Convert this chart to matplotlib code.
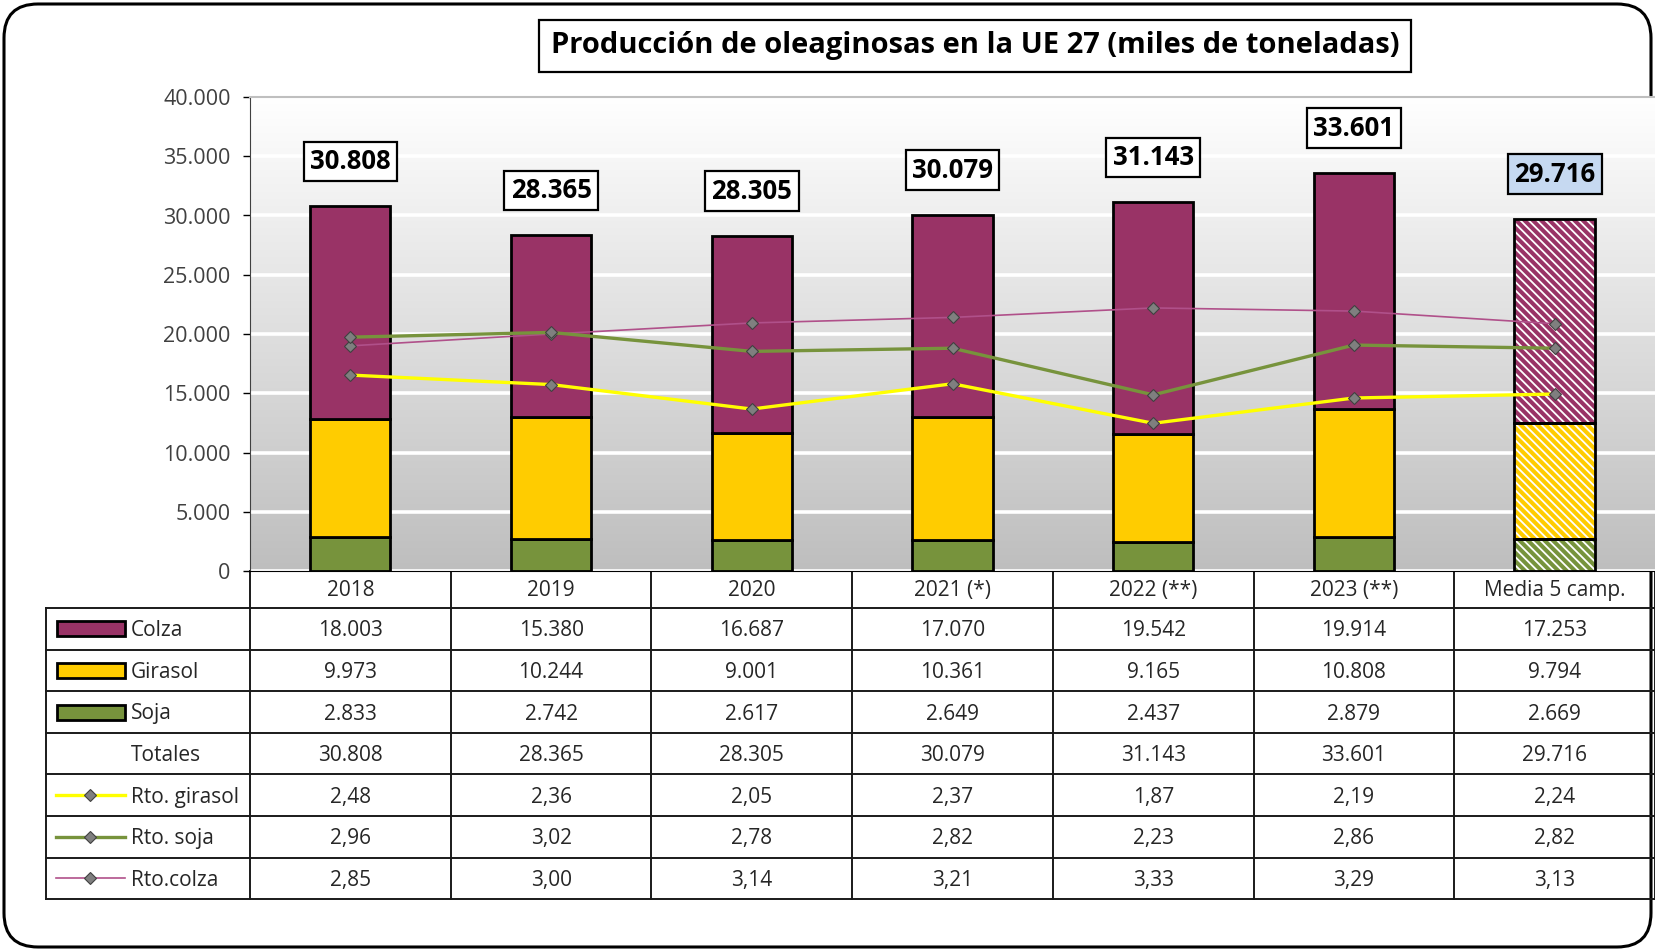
import numpy as np
import matplotlib
matplotlib.use('Agg')
import matplotlib.pyplot as plt
from matplotlib.patches import FancyBboxPatch, Rectangle
from matplotlib.lines import Line2D
from matplotlib.ticker import FuncFormatter

plt.rcParams['font.family'] = ['Open Sans', 'DejaVu Sans']
plt.rcParams['hatch.linewidth'] = 1.3

# datos (miles de toneladas / t/ha)
campanas = ['2018', '2019', '2020', '2021 (*)', '2022 (**)', '2023 (**)', 'Media 5 camp.']
colza = [18003, 15380, 16687, 17070, 19542, 19914, 17253]
girasol = [9973, 10244, 9001, 10361, 9165, 10808, 9794]
soja = [2833, 2742, 2617, 2649, 2437, 2879, 2669]
totales = [30808, 28365, 28305, 30079, 31143, 33601, 29716]
rto_girasol = [2.48, 2.36, 2.05, 2.37, 1.87, 2.19, 2.24]
rto_soja = [2.96, 3.02, 2.78, 2.82, 2.23, 2.86, 2.82]
rto_colza = [2.85, 3.00, 3.14, 3.21, 3.33, 3.29, 3.13]

C_COLZA = '#993366'
C_GIRASOL = '#ffcc00'
C_SOJA = '#77933c'
C_RGIR = '#ffff00'
C_RSOJA = '#77933c'
C_RCOLZA = '#b0508a'
TXT = '#262626'


def miles(v):
    return '{:,.0f}'.format(v).replace(',', '.')


def dec(v):
    return '{:.2f}'.format(v).replace('.', ',')


W, H = 1655, 951
fig = plt.figure(figsize=(W / 100, H / 100), dpi=100)

# capa de fondo: marco redondeado + tabla (coordenadas en pixeles)
tab = fig.add_axes([0, 0, 1, 1], zorder=0)
tab.set_xlim(0, W)
tab.set_ylim(H, 0)
tab.axis('off')
tab.add_patch(FancyBboxPatch((4, 4), W - 8, H - 8, boxstyle='round,pad=0,rounding_size=34',
                             fc='white', ec='black', lw=2.2))

x_left, x_ax = 46, 250
y_top, y_bot = 97, 571
col_w = (W - x_ax) / len(campanas)
row_top = 608
row_h = 41.6
n_rows = 7

# graf. principal
ax = fig.add_axes([x_ax / W, 1 - y_bot / H, (W - x_ax) / W, (y_bot - y_top) / H], zorder=2)
x = np.arange(len(campanas))
ax.set_xlim(-0.5, len(campanas) - 0.5)
ax.set_ylim(0, 40000)

grad = np.linspace(0.745, 1.0, 256).reshape(-1, 1)
ax.imshow(np.dstack([grad, grad, grad]), extent=[-0.5, len(campanas) - 0.5, 0, 40000],
          origin='lower', aspect='auto', zorder=0, interpolation='bilinear')
ax.set_axisbelow(True)
ax.yaxis.grid(True, color='white', lw=2.6)
ax.set_yticks(np.arange(0, 40001, 5000))
ax.yaxis.set_major_formatter(FuncFormatter(lambda v, p: miles(v)))
ax.tick_params(axis='y', direction='out', length=5, width=1, labelsize=15.5, labelcolor='#404040', pad=9)
ax.set_xticks([])
ax.spines['right'].set_visible(False)
ax.spines['top'].set_color('#bfbfbf')
ax.spines['top'].set_linewidth(1.5)
ax.spines['left'].set_color('#404040')
ax.spines['bottom'].set_color('black')

bw = 0.4
n = len(campanas) - 1
bot2 = np.array(soja)
bot3 = bot2 + np.array(girasol)
ax.bar(x[:n], soja[:n], bw, color=C_SOJA, edgecolor='black', lw=2, zorder=2)
ax.bar(x[:n], girasol[:n], bw, bottom=bot2[:n], color=C_GIRASOL, edgecolor='black', lw=2, zorder=2)
ax.bar(x[:n], colza[:n], bw, bottom=bot3[:n], color=C_COLZA, edgecolor='black', lw=2, zorder=2)

# media: rayado blanco
for vals, bots, c in [(soja, np.zeros(len(soja)), C_SOJA), (girasol, bot2, C_GIRASOL), (colza, bot3, C_COLZA)]:
    ax.bar(x[n], vals[n], bw, bottom=bots[n], color=c, edgecolor='white', lw=0, hatch='\\\\\\\\', zorder=2)
    ax.bar(x[n], vals[n], bw, bottom=bots[n], fill=False, edgecolor='black', lw=2, zorder=2.1)

for i, t in enumerate(totales):
    fc = '#c6d9f1' if i == n else 'white'
    ax.annotate(miles(t), xy=(x[i], t), xytext=(0, 32), textcoords='offset points',
                ha='center', va='center', fontsize=18.5, fontweight='bold', color='black',
                bbox=dict(boxstyle='square,pad=0.25', fc=fc, ec='black', lw=1.6), zorder=5)

# rendimientos (eje secundario oculto)
ax2 = ax.twinx()
ax2.set_ylim(0, 6)
ax2.axis('off')
mk = dict(marker='D', markersize=6, markerfacecolor='#7f7f7f', markeredgecolor='#404040', markeredgewidth=0.8)
ax2.plot(x, rto_colza, color=C_RCOLZA, lw=1.2, **mk)
ax2.plot(x, rto_girasol, color=C_RGIR, lw=2.4, **mk)
ax2.plot(x, rto_soja, color=C_RSOJA, lw=2.4, **mk)

# titulo
fig.text(975 / W, 1 - 46 / H, 'Producción de oleaginosas en la UE 27 (miles de toneladas)',
         ha='center', va='center', fontsize=21, fontweight='bold', color='black',
         bbox=dict(boxstyle='square,pad=0.4', fc='white', ec='black', lw=1.6))

# tabla de datos
lw_t = 1.4
rows_y = [row_top + k * row_h for k in range(n_rows + 1)]
for yy in rows_y:
    tab.plot([x_left, W], [yy, yy], color='#1a1a1a', lw=lw_t, zorder=3)
tab.plot([x_left, x_left], [row_top, rows_y[-1]], color='#1a1a1a', lw=lw_t, zorder=3)
for k in range(len(campanas) + 1):
    xx = x_ax + k * col_w
    tab.plot([xx, xx], [y_bot, rows_y[-1]], color='#1a1a1a', lw=lw_t, zorder=3)

hdr_y = (y_bot + row_top) / 2 + 1
for k, c in enumerate(campanas):
    tab.text(x_ax + (k + 0.5) * col_w, hdr_y, c, ha='center', va='center', fontsize=15, color=TXT)

filas = [('Colza', [miles(v) for v in colza], ('bar', C_COLZA)),
         ('Girasol', [miles(v) for v in girasol], ('bar', C_GIRASOL)),
         ('Soja', [miles(v) for v in soja], ('bar', C_SOJA)),
         ('Totales', [miles(v) for v in totales], None),
         ('Rto. girasol', [dec(v) for v in rto_girasol], ('line', C_RGIR, 2.4)),
         ('Rto. soja', [dec(v) for v in rto_soja], ('line', C_RSOJA, 2.4)),
         ('Rto.colza', [dec(v) for v in rto_colza], ('line', C_RCOLZA, 1.2))]

for r, (lab, vals, key) in enumerate(filas):
    yc = row_top + (r + 0.5) * row_h + 2
    tab.text(131, yc, lab, ha='left', va='center', fontsize=15, color=TXT)
    kc = yc - 2
    if key is not None and key[0] == 'bar':
        tab.add_patch(Rectangle((57, kc - 7.5), 68, 15, fc=key[1], ec='black', lw=2, zorder=4))
    elif key is not None:
        tab.add_line(Line2D([56, 125], [kc, kc], color=key[1], lw=key[2], zorder=4))
        tab.add_line(Line2D([90], [kc], color=key[1], zorder=5, **mk))
    for k, v in enumerate(vals):
        tab.text(x_ax + (k + 0.5) * col_w, yc, v, ha='center', va='center', fontsize=15, color=TXT)

fig.savefig('out.png', dpi=100)
